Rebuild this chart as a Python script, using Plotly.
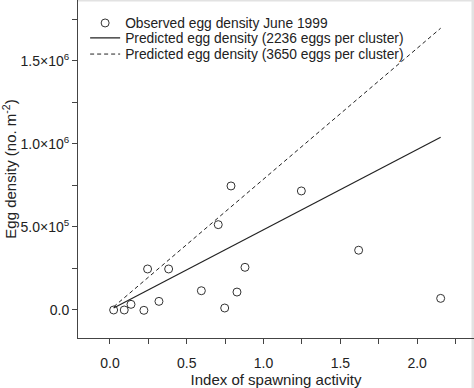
import plotly.graph_objects as go

spawn_index = [0.024, 0.093, 0.137, 0.221, 0.245, 0.319, 0.382, 0.595,
               0.705, 0.747, 0.788, 0.827, 0.879, 1.246, 1.619, 2.153]
egg_density = [0, 0, 34000, -2000, 247000, 52000, 247000, 116000,
               514000, 12000, 747000, 108000, 257000, 717000, 360000, 70000]

# Predicted lines (endpoints)
pred_x = [0.024, 2.153]
pred_2236 = [12000, 1040000]
pred_3650 = [19000, 1697000]

x_tickvals = [0.0, 0.5, 1.0, 1.5, 2.0]
x_ticktext = ["0.0", "0.5", "1.0", "1.5", "2.0"]
y_tickvals = [0, 500000, 1000000, 1500000]
y_ticktext = ["0.0", "5.0×10<sup>5</sup>", "1.0×10<sup>6</sup>", "1.5×10<sup>6</sup>"]

FONT = "Liberation Sans, Arial, sans-serif"
INK = "#222222"

fig = go.Figure()
fig.add_trace(go.Scatter(
    x=spawn_index, y=egg_density, mode="markers",
    name="Observed egg density June 1999", legend="legend",
    marker=dict(symbol="circle-open", size=8, color="#333333", line=dict(width=1)),
))
fig.add_trace(go.Scatter(
    x=pred_x, y=pred_2236, mode="lines",
    name="Predicted egg density (2236 eggs per cluster)", legend="legend2",
    line=dict(color="#222222", width=1.2),
))
fig.add_trace(go.Scatter(
    x=pred_x, y=pred_3650, mode="lines",
    name="Predicted egg density (3650 eggs per cluster)", legend="legend3",
    line=dict(color="#222222", width=1, dash="4px,3px"),
))

leg_common = dict(xanchor="left", yanchor="middle", bgcolor="rgba(0,0,0,0)",
                  font=dict(size=13.8, color=INK), itemwidth=30)

fig.update_layout(
    width=474, height=388,
    margin=dict(l=78, r=0, t=0, b=50),
    paper_bgcolor="white", plot_bgcolor="white",
    font=dict(family=FONT, size=14, color=INK),
    showlegend=True,
    legend=dict(x=0.018, y=0.932, **leg_common),
    legend2=dict(x=0.018, y=0.8876, **leg_common),
    legend3=dict(x=0.018, y=0.840, **leg_common),
    shapes=[
        dict(type="line", xref="paper", yref="paper", x0=0, x1=1, y0=1, y1=1,
             line=dict(color="#e2e2e2", width=3), layer="below"),
        dict(type="line", xref="paper", yref="paper", x0=1, x1=1, y0=-0.2, y1=1,
             line=dict(color="#e2e2e2", width=5), layer="below"),
    ],
    xaxis=dict(
        range=[-0.208, 2.37], showgrid=False, zeroline=False, automargin=False,
        showline=True, linecolor="#444444", linewidth=1,
        ticks="outside", ticklen=5, tickcolor="#444444",
        tickvals=x_tickvals, ticktext=x_ticktext,
        minor=dict(dtick=0.25, tick0=0, ticks="outside", ticklen=5, tickcolor="#444444"),
        tickfont=dict(size=14, color=INK),
        ticklabelstandoff=7,
        title=dict(text="Index of spawning activity", font=dict(size=15, color=INK), standoff=0),
    ),
    yaxis=dict(
        range=[-168700, 1867000], showgrid=False, zeroline=False, automargin=False,
        showline=True, linecolor="#444444", linewidth=1,
        ticks="outside", ticklen=5, tickcolor="#444444",
        tickvals=y_tickvals, ticktext=y_ticktext,
        minor=dict(dtick=250000, tick0=0, ticks="outside", ticklen=5, tickcolor="#444444"),
        tickfont=dict(size=14, color=INK),
        title=dict(text="Egg density (no. m<sup>-2</sup>)", font=dict(size=15, color=INK), standoff=3),
    ),
)

fig.write_html(
    "out.html",
    config={"displayModeBar": False},
    post_script="document.body.style.margin='0';document.body.style.overflow='hidden';",
)
